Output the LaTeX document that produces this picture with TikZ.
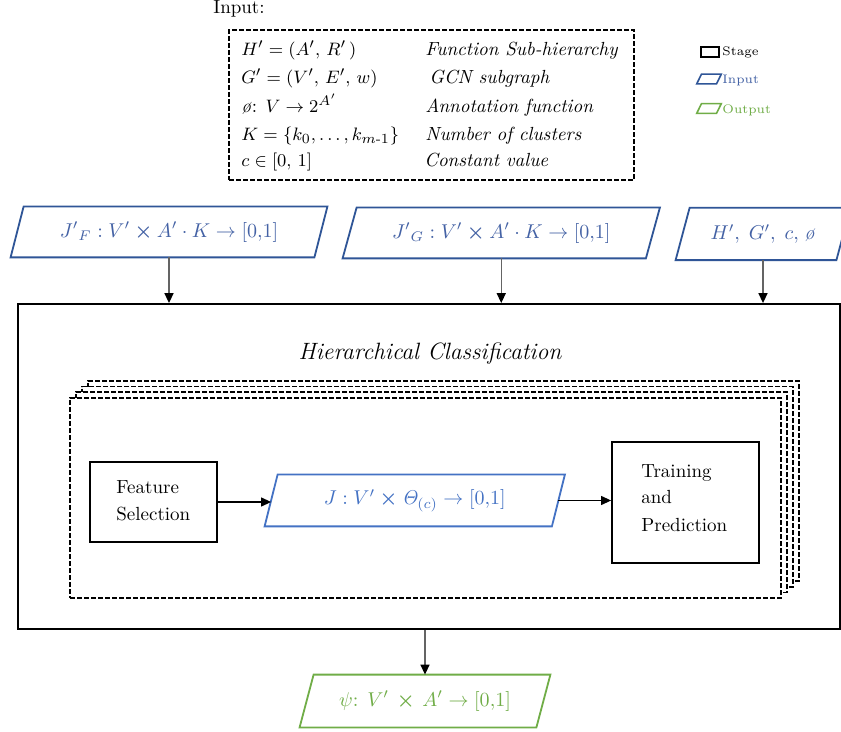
\documentclass[tikz,border=0pt]{standalone}
\usepackage{amsmath}
\usetikzlibrary{arrows.meta,calc}
\definecolor{inblue}{RGB}{47,85,151}
\definecolor{intext}{RGB}{68,98,165}
\definecolor{jblue}{RGB}{68,114,196}
\definecolor{outgreen}{RGB}{112,173,71}
\definecolor{conngray}{RGB}{100,100,100}
\newcommand\mypara[3]{\draw[#1] ([xshift=#3]#2.north west) -- ([xshift=#3]#2.north east) -- ([xshift=-#3]#2.south east) -- ([xshift=-#3]#2.south west) -- cycle;}
\begin{document}
\begin{tikzpicture}[x=0.5pt,y=-0.5pt,
  base/.style={font=\fontsize{9.5}{14}\selectfont},
  small/.style={font=\fontsize{6.2}{8}\selectfont},
  ptext/.style={inner sep=0pt, font=\fontsize{10}{14}\selectfont},
  stagebox/.style={draw, line width=0.9pt, inner sep=0pt},
  stackbox/.style={draw, fill=white, line width=0.8pt, dash pattern=on 2.5pt off 1pt, inner sep=0pt, minimum width=355.5pt, minimum height=100pt},
  conn/.style={draw=conngray, line width=0.75pt, -{Triangle[length=5pt,width=4.5pt,color=black]}},
  blk/.style={draw=black, line width=0.6pt, -{Triangle[length=5pt,width=4.5pt,color=black]}}
]
\clip (0,0) rectangle (841,732);
\fill[white] (0,0) rectangle (841,732);

% Input table
\node[base, anchor=base west, inner sep=0pt] (inlabel) at (213,14) {Input:};
\node[draw, line width=0.8pt, dash pattern=on 2.5pt off 1pt, inner sep=0pt, minimum width=202.5pt, minimum height=75pt] (tbl) at (431.5,105) {};
\node[base, anchor=base west, inner sep=0pt] (l1) at (241,56) {$H' = (A',\, R'\,)$};
\node[base, anchor=base west, inner sep=0pt] (l2) at (241,84) {$G' = (V',\, E',\, w)$};
\node[base, anchor=base west, inner sep=0pt] (l3) at (241,113) {\textit{ø}: $V \rightarrow 2^{A'}$};
\node[base, anchor=base west, inner sep=0pt] (l4) at (241,141) {$K = \{k_0,\ldots,k_{m\text{-}1}\}$};
\node[base, anchor=base west, inner sep=0pt] (l5) at (241,167) {$c \in [0,\, 1]$};
\node[base, anchor=base west, inner sep=0pt] (r1) at (425,56) {\textit{Function Sub-hierarchy}};
\node[base, anchor=base west, inner sep=0pt] (r2) at (429,84) {\textit{GCN subgraph}};
\node[base, anchor=base west, inner sep=0pt] (r3) at (425,113) {\textit{Annotation function}};
\node[base, anchor=base west, inner sep=0pt] (r4) at (425,141) {\textit{Number of clusters}};
\node[base, anchor=base west, inner sep=0pt] (r5) at (424,167) {\textit{Constant value}};

% Legend
\node[draw, line width=0.8pt, inner sep=0pt, minimum width=9pt, minimum height=5pt] (lgs) at (710,52) {};
\node[small, anchor=west, inner sep=0pt] (lgst) at (722,52) {Stage};
\node[inner sep=0pt, minimum width=9.5pt, minimum height=4.5pt] (lgi) at (709,79) {};
\mypara{draw=inblue, line width=0.8pt}{lgi}{1.2pt}
\node[small, anchor=west, inner sep=0pt, text=intext] (lgit) at (722,80) {Input};
\node[inner sep=0pt, minimum width=9.5pt, minimum height=4.5pt] (lgo) at (709,108.5) {};
\mypara{draw=outgreen, line width=0.8pt}{lgo}{1.2pt}
\node[small, anchor=west, inner sep=0pt, text=outgreen] (lgot) at (722,110) {Output};

% Input boxes
\node[ptext, text=intext, minimum width=151.5pt, minimum height=25pt] (j1) at (169,232) {$J{'}_{F} : V' \boldsymbol{\times} A' \cdot K \rightarrow [0{,}1]$};
\mypara{draw=inblue, line width=0.9pt}{j1}{3.25pt}
\node[ptext, text=intext, minimum width=151.25pt, minimum height=25pt] (j2) at (501.25,233) {$J{'}_{G} : V' \boldsymbol{\times} A' \cdot K \rightarrow [0{,}1]$};
\mypara{draw=inblue, line width=0.9pt}{j2}{3.5pt}
\node[ptext, text=intext, minimum width=80pt, minimum height=25.75pt] (j3) at (763,234) {$H',\; G',\; c,\;$\textit{ø}};
\mypara{draw=inblue, line width=0.9pt}{j3}{3.5pt}

% Big stage
\node[stagebox, minimum width=411pt, minimum height=162.5pt] (big) at (429,466.5) {};
\node[inner sep=0pt, font=\fontsize{11.8}{14}\selectfont\itshape] (title) at (430,354) {Hierarchical Classification};

% stack
\node[stackbox] (stk3) at (443.5,481) {};
\node[stackbox] (stk2) at (437.5,486.7) {};
\node[stackbox] (stk1) at (431.5,492.3) {};
\node[stackbox] (stk0) at (425.5,498) {};

% inner nodes
\node[stagebox, minimum width=63.5pt, minimum height=40pt] (fs) at (153.5,502) {};
\node[base, anchor=base west, inner sep=0pt] (fst) at (116,494) {Feature};
\node[base, anchor=base west, inner sep=0pt] (fst2) at (116,521) {Selection};
\node[ptext, text=jblue, minimum width=143.25pt, minimum height=25.5pt] (j) at (414.75,500.5) {$J : V' \boldsymbol{\times} \mathit{\Theta}_{(c)} \rightarrow [0{,}1]$};
\mypara{draw=jblue, line width=0.9pt}{j}{3.25pt}
\node[stagebox, minimum width=73.5pt, minimum height=60.5pt] (tr) at (685.5,502.5) {};
\node[base, anchor=base west, inner sep=0pt] (tr1) at (641,478) {Training};
\node[base, anchor=base west, inner sep=0pt] (tr2) at (641,504) {and};
\node[base, anchor=base west, inner sep=0pt] (tr3) at (641,531) {Prediction};

% output
\node[ptext, text=outgreen, minimum width=118pt, minimum height=26pt] (out) at (425,701) {$\psi$: $V'\, \boldsymbol{\times}\, A' \rightarrow [0{,}1]$};
\mypara{draw=outgreen, line width=0.9pt}{out}{3.5pt}

% connectors
\draw[conn] (j1.south) -- (j1.south |- big.north);
\draw[conn] (j2.south) -- (j2.south |- big.north);
\draw[conn] (j3.south) -- (j3.south |- big.north);
\draw[blk] (fs.east) -- (fs.east -| j.west);
\draw[blk] (j.east) -- (j.east -| tr.west);
\draw[conn] (out.north |- big.south) -- (out.north);
\end{tikzpicture}
\end{document}
